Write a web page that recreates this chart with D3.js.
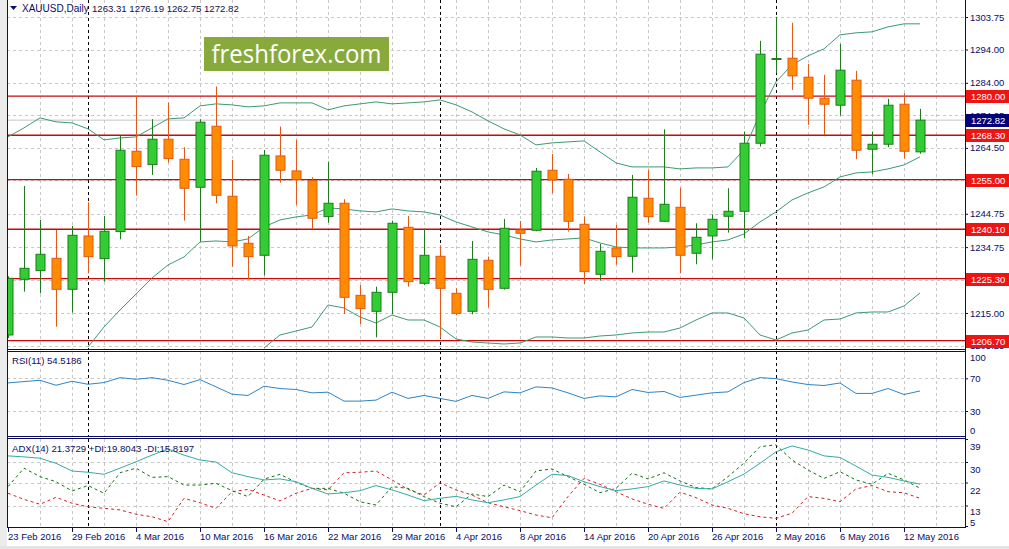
<!DOCTYPE html>
<html>
<head>
<meta charset="utf-8">
<script src="https://cdn.jsdelivr.net/npm/d3@7"></script>
<style>
  html, body { margin: 0; padding: 0; background: #fff; }
  svg { display: block; font-family: "Liberation Sans", Arial, sans-serif; }
</style>
</head>
<body>
<div id="chart"></div>
<script>
// XAUUSD daily, 23 Feb 2016 .. 13 May 2016 (one entry per bar)
var opens  = [1208.4,1225.1,1227.7,1231.4,1222.1,1238.1,1231.3,1239.4,1263.5,1259.5,1267.1,1261.1,1252.7,1271.0,1250.0,1235.9,1232.3,1262.1,1257.6,1254.7,1243.9,1247.9,1220.3,1215.5,1221.2,1240.7,1223.9,1232.0,1220.9,1215.5,1230.8,1222.4,1239.9,1239.8,1257.8,1255.1,1241.6,1226.6,1234.5,1232.0,1249.4,1242.5,1246.7,1232.9,1238.1,1244.0,1245.5,1265.9,1291.0,1291.4,1285.7,1279.4,1277.3,1284.8,1264.1,1265.6,1277.6,1263.31];
var highs  = [1226.0,1253.1,1242.9,1239.9,1241.1,1248.2,1244.1,1268.1,1280.1,1273.1,1278.1,1264.7,1273.1,1282.9,1260.9,1238.1,1263.9,1270.9,1266.9,1255.7,1260.4,1249.1,1223.4,1222.9,1242.7,1244.1,1240.1,1235.3,1222.4,1236.6,1231.9,1243.2,1242.6,1258.5,1262.7,1256.7,1243.9,1235.7,1241.4,1256.4,1257.9,1270.1,1252.5,1241.9,1244.6,1252.4,1269.4,1296.6,1303.8,1302.0,1289.7,1286.4,1295.7,1287.6,1269.4,1279.2,1280.9,1276.19];
var lows   = [1207.5,1221.4,1220.9,1210.9,1215.1,1226.9,1224.4,1237.1,1250.2,1256.4,1260.1,1242.7,1236.4,1247.9,1228.9,1225.1,1226.2,1254.1,1247.4,1240.1,1242.1,1214.7,1211.7,1207.7,1214.7,1222.9,1223.4,1207.4,1214.3,1214.6,1216.7,1222.0,1229.2,1239.5,1250.9,1239.4,1223.7,1224.7,1229.5,1227.1,1242.1,1242.3,1226.9,1229.6,1231.1,1239.1,1237.4,1264.9,1286.9,1281.9,1271.4,1268.4,1274.2,1261.1,1256.6,1264.7,1261.3,1262.75];
var closes = [1225.4,1228.4,1232.6,1222.1,1238.3,1231.9,1239.5,1263.8,1258.9,1267.1,1261.3,1252.4,1272.2,1250.3,1235.1,1231.9,1262.3,1257.8,1255.0,1243.4,1247.9,1219.7,1216.3,1221.2,1241.9,1224.4,1232.3,1222.4,1214.9,1231.1,1222.1,1240.4,1238.9,1257.5,1254.9,1242.5,1227.4,1233.5,1231.9,1249.7,1243.9,1247.6,1232.3,1237.7,1243.1,1245.5,1265.9,1292.6,1291.3,1286.1,1279.4,1277.6,1287.8,1263.8,1265.6,1277.3,1263.5,1272.82];

// Bollinger bands (null = outside the visible price range)
var bbUpper  = [1267.8,1270.5,1273.5,1272.3,1272.0,1270.2,1266.9,1267.5,1267.8,1270.5,1273.2,1273.5,1277.1,1277.7,1277.4,1276.8,1277.1,1278.0,1278.0,1278.0,1275.9,1277.1,1277.7,1278.3,1277.7,1278.0,1278.3,1278.9,1277.4,1275.3,1272.6,1270.2,1268.4,1265.4,1266.0,1266.3,1266.6,1263.3,1260.0,1258.8,1258.8,1258.8,1258.2,1258.5,1258.5,1258.8,1263.9,1274.7,1284.3,1289.4,1292.1,1294.2,1298.4,1299.0,1299.3,1300.8,1301.7,1301.7];
var bbMiddle = [null,null,null,null,null,1204.8,1210.8,1215.9,1220.7,1225.5,1229.4,1231.8,1236.3,1236.6,1236.3,1237.2,1240.8,1242.9,1243.8,1244.4,1246.5,1246.2,1245.6,1245.3,1246.2,1245.6,1245.3,1244.4,1242.3,1240.8,1239.3,1238.4,1237.2,1236.3,1236.9,1237.2,1237.5,1236.0,1234.8,1234.5,1234.5,1234.5,1234.8,1235.4,1236.3,1236.9,1238.7,1242.3,1245.3,1248.9,1251.0,1252.8,1255.8,1257.0,1257.3,1258.2,1259.4,1261.8];
var bbLower  = [null,null,null,null,null,null,null,null,null,null,null,null,null,null,null,null,1204.5,1208.4,1209.6,1210.8,1217.4,1216.5,1213.8,1212.0,1214.4,1212.9,1212.9,1210.8,1207.2,1206.3,1206.0,1205.7,1206.0,1207.8,1207.8,1207.5,1207.5,1208.1,1208.4,1209.0,1209.3,1209.3,1210.5,1212.9,1215.0,1215.0,1213.5,1208.4,1206.9,1209.0,1209.9,1212.9,1213.2,1215.0,1215.3,1215.3,1217.1,1221.0];

var rsiValues = [64.3,66.0,67.6,61.5,66.4,62.7,64.8,70.8,68.8,70.8,67.6,62.4,68.4,59.5,50.6,49.0,60.3,57.5,56.3,52.2,53.0,42.1,42.1,43.3,53.0,45.4,49.0,45.4,41.8,49.0,45.4,53.4,52.2,59.5,58.2,52.2,45.4,48.5,47.3,56.3,52.7,53.9,46.6,49.4,52.2,53.4,64.8,70.8,69.6,65.5,62.4,61.2,64.3,51.5,51.5,57.5,50.2,54.5];
var adxValues = [32.4,32.0,31.5,29.5,26.5,26.0,25.2,27.6,30.1,32.7,35.1,32.7,30.8,30.0,25.8,24.3,23.0,23.4,22.3,19.7,17.5,18.0,18.8,20.8,19.1,17.1,14.9,15.8,16.6,15.2,14.1,15.2,16.5,21.0,25.2,24.7,22.3,20.4,18.8,19.5,20.4,22.6,21.0,19.7,19.5,22.3,25.3,29.5,34.0,36.3,34.7,32.4,31.8,28.4,24.9,24.0,22.6,21.37];
var plusDI    = [20.4,27.6,24.3,22.3,18.7,20.8,17.8,25.8,27.6,24.0,24.3,21.0,21.0,21.7,18.8,16.5,23.3,25.2,22.1,19.7,19.7,17.8,14.5,13.2,20.4,19.7,16.5,13.9,12.5,17.5,16.5,21.0,18.4,26.5,27.3,24.3,21.3,18.0,19.7,25.6,23.4,25.8,22.6,20.0,19.5,24.3,29.6,36.0,36.7,30.8,26.9,23.6,26.2,23.0,21.3,25.6,23.0,19.80];
var minusDI   = [17.8,15.4,13.5,16.2,13.9,12.5,11.9,11.3,9.6,8.6,6.7,15.8,14.1,11.9,18.4,19.3,17.1,14.8,17.8,19.7,19.1,25.8,26.0,26.5,23.0,19.3,17.1,21.9,19.1,17.1,14.1,12.5,11.0,9.3,8.2,16.5,23.6,21.3,18.4,15.6,13.5,11.9,18.2,16.1,13.2,11.9,9.8,8.6,8.0,10.0,16.5,15.8,14.5,19.5,20.8,18.4,18.0,15.82];

var dateLabels = ["23 Feb 2016","29 Feb 2016","4 Mar 2016","10 Mar 2016","16 Mar 2016","22 Mar 2016","29 Mar 2016","4 Apr 2016","8 Apr 2016","14 Apr 2016","20 Apr 2016","26 Apr 2016","2 May 2016","6 May 2016","12 May 2016"];
var labelEvery = 4;
var monthStarts = [5, 27, 48];

var priceTicks = [1303.75,1294.00,1284.00,1274.25,1264.50,1254.75,1244.75,1234.75,1225.00,1215.00,1205.25];
var levels = [1280.00,1268.30,1255.00,1240.10,1225.30,1206.70];
var lastPrice = 1272.82;

var rsiTicks = [100, 70, 30, 0];
var rsiLevels = [70, 30];
var adxTicks = [39, 30, 22, 13, 5];
var adxLevels = [30, 22, 13];

(function() {
  "use strict";

  var NAVY = "#0c0c64";

  class MetaChart {
    appendTo(container, width, height) {
      this._root = this.createDom(width, height);
      container.appendChild(this._root);
    }

    createDom(width, height) {
      var dom = document.createElement("div");
      var svg = d3.select(dom).append("svg")
        .attr("width", width)
        .attr("height", height);

      this.left = 7;
      this.right = 965;
      this.x = d3.scaleLinear().domain([0, 57]).range([8, 920]);
      this.yPrice = d3.scaleLinear().domain([1205.25, 1303.75]).range([345.5, 17]);
      this.yRsi = d3.scaleLinear().domain([0, 100]).range([435.5, 353.8]);
      this.yAdx = d3.scaleLinear().domain([5, 39]).range([526, 439]);

      svg.append("rect").attr("width", width).attr("height", height).attr("fill", "#fff");
      svg.append("rect").attr("width", this.left).attr("height", height).attr("fill", "#ececec");
      svg.append("rect").attr("y", 546).attr("width", width).attr("height", 3).attr("fill", "#e4e4e4");

      this._addPricePanel(svg);
      this._addRsiPanel(svg);
      this._addAdxPanel(svg);
      this._addFrame(svg);
      this._addTimeAxis(svg);
      return dom;
    }

    _clip(svg, id, y0, y1) {
      svg.append("clipPath").attr("id", id).append("rect")
        .attr("x", this.left + 0.5).attr("y", y0)
        .attr("width", this.right - this.left - 0.5).attr("height", y1 - y0);
      return svg.append("g").attr("clip-path", `url(#${id})`);
    }

    _vGrid(g, y0, y1) {
      var x = this.x;
      g.selectAll(null).data(d3.range(2, 60, 2)).enter().append("line")
        .attr("x1", d => Math.round(x(d)) + 0.5).attr("x2", d => Math.round(x(d)) + 0.5)
        .attr("y1", y0).attr("y2", y1)
        .attr("stroke", "#c8c8c8").attr("stroke-dasharray", "3,3");
    }

    _hGrid(g, values, scale) {
      g.selectAll(null).data(values).enter().append("line")
        .attr("x1", this.left).attr("x2", this.right)
        .attr("y1", d => Math.round(scale(d)) + 0.5).attr("y2", d => Math.round(scale(d)) + 0.5)
        .attr("stroke", "#c8c8c8").attr("stroke-dasharray", "3,3");
    }

    _separators(g, y0, y1) {
      var x = this.x;
      g.selectAll(null).data(monthStarts).enter().append("line")
        .attr("x1", d => Math.round(x(d)) + 0.5).attr("x2", d => Math.round(x(d)) + 0.5)
        .attr("y1", y0).attr("y2", y1)
        .attr("stroke", "#000").attr("stroke-dasharray", "3,3");
    }

    _addPricePanel(svg) {
      var x = this.x, y = this.yPrice;
      var g = this._clip(svg, "clipPrice", 0, 349);

      this._vGrid(g, 0, 349);
      this._hGrid(g, priceTicks, y);

      // watermark
      svg.append("rect").attr("x", 204).attr("y", 37).attr("width", 185).attr("height", 34)
        .attr("fill", "#88aa3c");
      svg.append("text").attr("x", 296.5).attr("y", 63)
        .attr("text-anchor", "middle")
        .attr("font-family", "'Open Sans', 'Noto Sans', sans-serif")
        .attr("font-size", 25).attr("fill", "#fff")
        .attr("textLength", 170).attr("lengthAdjust", "spacingAndGlyphs")
        .text("freshforex.com");

      // bid line
      g.append("line").attr("x1", this.left).attr("x2", this.right)
        .attr("y1", y(lastPrice)).attr("y2", y(lastPrice))
        .attr("stroke", "#c4c4c4");

      this._separators(g, 0, 349);

      // horizontal support / resistance levels
      g.selectAll(null).data(levels).enter().append("line")
        .attr("x1", this.left).attr("x2", this.right)
        .attr("y1", d => y(d)).attr("y2", d => y(d))
        .attr("stroke", "#c80a0a").attr("stroke-width", 1.3);

      // bollinger bands
      var band = d3.line().defined(d => d != null)
        .x((d, i) => x(i)).y(d => y(d));
      [bbUpper, bbMiddle, bbLower].forEach(function(values) {
        g.append("path").attr("d", band(values))
          .attr("fill", "none").attr("stroke", "#3b9a70").attr("stroke-width", 1);
      });

      // candles
      var idx = d3.range(opens.length);
      var candle = g.selectAll(null).data(idx).enter().append("g");
      var up = i => closes[i] >= opens[i];
      candle.append("line")
        .attr("x1", i => Math.round(x(i)) + 0.5).attr("x2", i => Math.round(x(i)) + 0.5)
        .attr("y1", i => y(highs[i])).attr("y2", i => y(lows[i]))
        .attr("stroke", i => up(i) ? "#1f7a1f" : "#e0581a");
      candle.append("rect")
        .attr("x", i => Math.round(x(i)) - 4)
        .attr("width", 9)
        .attr("y", i => y(Math.max(opens[i], closes[i])))
        .attr("height", i => Math.max(1, Math.abs(y(opens[i]) - y(closes[i]))))
        .attr("fill", i => up(i) ? "#32cd32" : "#ff8c00")
        .attr("stroke", i => up(i) ? "#1f7a1f" : "#e0581a")
        .attr("stroke-width", 1);

      // header
      svg.append("path").attr("d", "M10,6 L17,6 L13.5,10 Z").attr("fill", NAVY);
      svg.append("text").attr("x", 22).attr("y", 12)
        .attr("font-size", 10).attr("fill", NAVY).text("XAUUSD,Daily");
      svg.append("text").attr("x", 92).attr("y", 12)
        .attr("font-size", 9.6).attr("fill", "#10104a")
        .text([opens[57], highs[57], lows[57], closes[57]].map(d3.format(".2f")).join(" "));

      // price axis
      var axis = svg.append("g").attr("transform", `translate(${this.right},0)`)
        .call(d3.axisRight(y).tickValues(priceTicks).tickFormat(d3.format(".2f")).tickSize(3).tickPadding(2));
      axis.select(".domain").remove();
      axis.selectAll("line").attr("stroke", NAVY);
      axis.selectAll("text").attr("font-size", 9.5).attr("fill", NAVY)
        .attr("font-family", "'Liberation Sans', Arial, sans-serif");

      var boxes = svg.selectAll(null)
        .data(levels.map(d => ({v: d, bg: "#ee1414"})).concat([{v: lastPrice, bg: "#000078"}]))
        .enter().append("g")
        .attr("transform", d => `translate(${this.right + 1},${Math.round(y(d.v)) - 6})`);
      boxes.append("rect").attr("width", 43).attr("height", 13).attr("fill", d => d.bg);
      boxes.append("text").attr("x", 5).attr("y", 10)
        .attr("font-size", 9.5).attr("fill", "#fff")
        .text(d => d3.format(".2f")(d.v));
    }

    _addRsiPanel(svg) {
      var x = this.x, y = this.yRsi;
      var g = this._clip(svg, "clipRsi", 351, 436);
      this._vGrid(g, 351, 436);
      this._hGrid(g, rsiLevels, y);
      this._separators(g, 351, 436);

      g.append("path")
        .attr("d", d3.line().x((d, i) => x(i)).y(d => y(d))(rsiValues))
        .attr("fill", "none").attr("stroke", "#2e84c6").attr("stroke-width", 1);

      svg.append("text").attr("x", 12).attr("y", 364)
        .attr("font-size", 9.6).attr("fill", NAVY)
        .text("RSI(11) " + d3.format(".4f")(54.5186));

      var axis = svg.append("g").attr("transform", `translate(${this.right},0)`)
        .call(d3.axisRight(y).tickValues(rsiTicks).tickFormat(d3.format("d")).tickSize(3).tickPadding(2));
      axis.select(".domain").remove();
      axis.selectAll("line").attr("stroke", NAVY);
      axis.selectAll("text").attr("font-size", 9.5).attr("fill", NAVY)
        .attr("font-family", "'Liberation Sans', Arial, sans-serif")
        .attr("y", d => d === 100 ? 4 : (d === 0 ? -5 : 0));
      axis.selectAll(".tick line").attr("display", d => (d === 100 || d === 0) ? "none" : null);
    }

    _addAdxPanel(svg) {
      var x = this.x, y = this.yAdx;
      var g = this._clip(svg, "clipAdx", 439, 527);
      this._vGrid(g, 439, 527);
      this._hGrid(g, adxLevels, y);
      this._separators(g, 439, 527);

      var line = d3.line().x((d, i) => x(i)).y(d => y(d));
      g.append("path").attr("d", line(minusDI))
        .attr("fill", "none").attr("stroke", "#d42020").attr("stroke-dasharray", "3,3");
      g.append("path").attr("d", line(plusDI))
        .attr("fill", "none").attr("stroke", "#137013").attr("stroke-dasharray", "3,3");
      g.append("path").attr("d", line(adxValues))
        .attr("fill", "none").attr("stroke", "#34aaa8").attr("stroke-width", 1);

      svg.append("text").attr("x", 12).attr("y", 451.5)
        .attr("font-size", 9.6).attr("fill", NAVY)
        .text("ADX(14) 21.3729 +DI:19.8043 -DI:15.8197");

      var axis = svg.append("g").attr("transform", `translate(${this.right},0)`)
        .call(d3.axisRight(y).tickValues(adxTicks).tickFormat(d3.format("d")).tickSize(3).tickPadding(2));
      axis.select(".domain").remove();
      axis.selectAll("line").attr("stroke", NAVY);
      axis.selectAll("text").attr("font-size", 9.5).attr("fill", NAVY)
        .attr("font-family", "'Liberation Sans', Arial, sans-serif")
        .attr("y", d => d === 5 ? -3.5 : (d === 13 ? 6 : 7.5));
    }

    _addFrame(svg) {
      var f = svg.append("g").attr("stroke", NAVY).attr("fill", "none");
      [349.5, 351.5, 436.5, 438.5, 527.5].forEach(function(yy) {
        f.append("line").attr("x1", 7).attr("x2", 965).attr("y1", yy).attr("y2", yy);
      });
      f.append("line").attr("x1", 7.5).attr("x2", 7.5).attr("y1", 0).attr("y2", 528);
      f.append("line").attr("x1", 965.5).attr("x2", 965.5).attr("y1", 0).attr("y2", 528);
    }

    _addTimeAxis(svg) {
      var axis = svg.append("g").attr("transform", "translate(0,528)")
        .call(d3.axisBottom(this.x)
          .tickValues(dateLabels.map((d, i) => i * labelEvery))
          .tickFormat((d, i) => dateLabels[i])
          .tickSize(4));
      axis.select(".domain").remove();
      axis.selectAll("line").attr("stroke", NAVY);
      axis.selectAll("text").attr("font-size", 9.5).attr("fill", NAVY)
        .attr("font-family", "'Liberation Sans', Arial, sans-serif")
        .attr("text-anchor", "start").attr("x", -0.5).attr("y", 5);
    }
  }

  new MetaChart().appendTo(document.getElementById("chart"), 1009, 549);
})();
</script>
</body>
</html>
